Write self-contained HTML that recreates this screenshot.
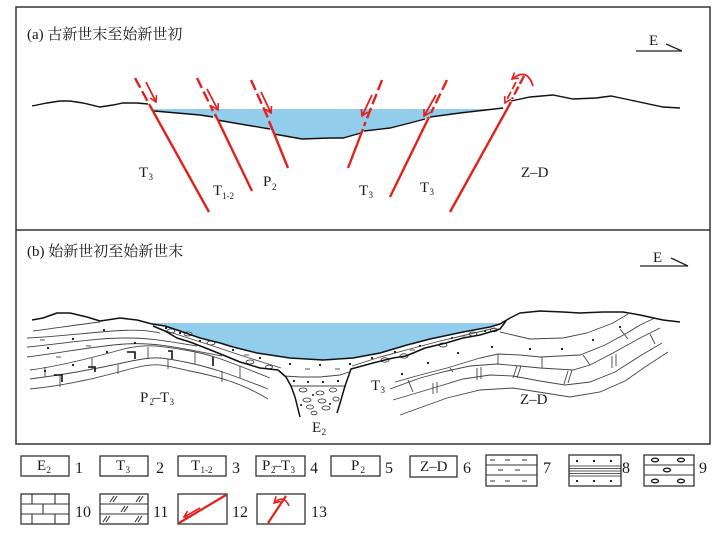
<!DOCTYPE html>
<html>
<head>
<meta charset="utf-8">
<style>
html,body{margin:0;padding:0;background:#fff;}
svg{display:block;}
text{font-family:"Liberation Serif","Noto Serif CJK SC",serif;fill:#1a1a1a;}
</style>
</head>
<body>
<svg width="726" height="533" viewBox="0 0 726 533" xmlns="http://www.w3.org/2000/svg">
<defs>
<marker id="ah" markerUnits="userSpaceOnUse" markerWidth="9" markerHeight="9" refX="7" refY="4.5" orient="auto">
<path d="M1,1 L7,4.5 L1,8" fill="none" stroke="#e3211c" stroke-width="1.6"/>
</marker>
</defs>
<rect x="0" y="0" width="726" height="533" fill="#fff"/>

<!-- Frame -->
<rect x="16" y="7" width="694" height="437" fill="none" stroke="#333" stroke-width="1.5"/>
<line x1="16" y1="230" x2="710" y2="230" stroke="#333" stroke-width="1.5"/>

<!-- ============ PANEL A ============ -->
<text x="27" y="39" font-size="15">(a) 古新世末至始新世初</text>
<text x="649" y="45" font-size="15">E</text>
<line x1="636" y1="51" x2="682" y2="51" stroke="#222" stroke-width="1.3"/>
<line x1="666" y1="44" x2="682" y2="51" stroke="#222" stroke-width="1.3"/>

<!-- water -->
<polygon points="153,109 504,109 503,108 460,113 430,117 425,119 410,123 390,128 364,131 361,133 343,138 330,138 302,139 274,134 270,129 240,124 217,120 213,117 200,115 154,111" fill="#93cdec"/>
<!-- surface lines -->
<polyline points="32,106 47,103 60,101 70,101 83,103 100,107 113,105 123,103 137,103 148,104" fill="none" stroke="#111" stroke-width="1.4"/>
<polyline points="154,111 200,115 213,117" fill="none" stroke="#111" stroke-width="1.4"/>
<polyline points="217,120 240,124 270,129" fill="none" stroke="#111" stroke-width="1.4"/>
<polyline points="274,134 302,139 330,138 343,138 361,133" fill="none" stroke="#111" stroke-width="1.4"/>
<polyline points="364,131 390,128 410,123 425,119" fill="none" stroke="#111" stroke-width="1.4"/>
<polyline points="430,117 460,113 503,108" fill="none" stroke="#111" stroke-width="1.4"/>
<polyline points="511,101 530,97 553,95 573,99 596,98 611,96 630,100 663,107 680,108" fill="none" stroke="#111" stroke-width="1.4"/>

<!-- faults -->
<g stroke="#e3211c" stroke-width="2.4" fill="none" stroke-linecap="butt">
<line x1="135" y1="78" x2="148" y2="102" stroke-dasharray="11,4"/>
<line x1="149" y1="104" x2="209" y2="212"/>
<line x1="197" y1="78" x2="213" y2="111" stroke-dasharray="11,4"/>
<line x1="215" y1="114" x2="252" y2="191"/>
<line x1="251" y1="80" x2="268" y2="118" stroke-dasharray="11,4"/>
<line x1="269" y1="121" x2="288" y2="168"/>
<line x1="382" y1="80" x2="364" y2="126" stroke-dasharray="11,4"/>
<line x1="363" y1="129" x2="348" y2="168"/>
<line x1="447" y1="80" x2="431" y2="113" stroke-dasharray="11,4"/>
<line x1="429" y1="117" x2="390" y2="197"/>
<line x1="524" y1="76" x2="512" y2="99" stroke-dasharray="9,3"/>
<line x1="511" y1="102" x2="450" y2="212"/>
</g>
<g stroke="#e3211c" stroke-width="1.8" fill="none">
<line x1="146" y1="82" x2="156" y2="102" marker-end="url(#ah)"/>
<line x1="207" y1="89" x2="218" y2="110" marker-end="url(#ah)"/>
<line x1="261" y1="92" x2="271" y2="113" marker-end="url(#ah)"/>
<line x1="372" y1="95" x2="362" y2="116" marker-end="url(#ah)"/>
<line x1="436" y1="95" x2="424" y2="116" marker-end="url(#ah)"/>
<line x1="516" y1="82" x2="505" y2="103" marker-end="url(#ah)" stroke-dasharray="8,3"/>
<path d="M533,86 Q527,67 512,79" marker-end="url(#ah)"/>
</g>

<!-- labels a -->
<text x="139" y="177" font-size="15">T</text><text x="148.5" y="180" font-size="9">3</text>
<text x="213" y="195" font-size="15">T</text><text x="222" y="199" font-size="9">1-2</text>
<text x="263" y="186" font-size="15">P</text><text x="272" y="190" font-size="9">2</text>
<text x="359" y="195" font-size="15">T</text><text x="368.5" y="198" font-size="9">3</text>
<text x="420" y="192" font-size="15">T</text><text x="429.5" y="195" font-size="9">3</text>
<text x="521" y="177" font-size="15">Z–D</text>

<!-- ============ PANEL B ============ -->
<text x="27" y="256" font-size="15">(b) 始新世初至始新世末</text>
<text x="653" y="262" font-size="15">E</text>
<line x1="640" y1="266" x2="688" y2="266" stroke="#222" stroke-width="1.3"/>
<line x1="671" y1="258" x2="688" y2="266" stroke="#222" stroke-width="1.3"/>

<!-- water -->
<polygon points="152,323 500,323 490,327 463,332 430,339 407,345 380,353 353,358 323,360 290,358 257,353 233,347 220,343 200,338 180,331 165,326 152,324" fill="#93cdec"/>

<!-- left strata -->
<g stroke="#444" stroke-width="0.9" fill="none">
<path d="M33,331 C50,329 75,325 100,322"/>
<path d="M27,338 C55,337 85,333 113,331 S150,331 160,333"/>
<path d="M27,347 C60,344 95,338 125,338 S170,342 197,346"/>
<path d="M27,357 C60,353 95,346 125,344 S180,348 222,356"/>
<path d="M30,370 C60,366 95,357 120,350 S160,346 185,350 S225,360 270,378"/>
<path d="M30,379 C70,374 100,368 127,362 S160,357 185,362 S230,374 268,389"/>
<path d="M30,389 C70,385 100,377 130,369 S165,366 190,371 S240,382 268,399"/>
<!-- block ticks -->
<line x1="45" y1="367" x2="45" y2="377"/>
<line x1="92" y1="358" x2="92" y2="369"/>
<line x1="148" y1="347" x2="148" y2="358"/>
<line x1="195" y1="352" x2="195" y2="364"/>
<line x1="240" y1="366" x2="240" y2="378"/>
<line x1="60" y1="376" x2="60" y2="387"/>
<line x1="118" y1="365" x2="118" y2="374"/>
<line x1="168" y1="359" x2="168" y2="369"/>
<line x1="222" y1="371" x2="222" y2="382"/>
</g>
<g stroke="#111" stroke-width="1.6" fill="none">
<path d="M54,375 h8 v7"/>
<path d="M88,367 h7 v5"/>
<path d="M127,352 h8 v7"/>
<path d="M168,351 h4 v8"/>
<path d="M213,357 v9"/>
</g>
<g fill="#111">
<circle cx="104" cy="330" r="1.1"/><circle cx="73" cy="339" r="1.1"/><circle cx="48" cy="348" r="1.1"/>
<circle cx="135" cy="343" r="1.1"/><circle cx="107" cy="352" r="1.1"/><circle cx="73" cy="365" r="1.1"/>
<circle cx="45" cy="371" r="1.1"/>
</g>
<g stroke="#444" stroke-width="0.9">
<line x1="86" y1="346" x2="91" y2="346"/><line x1="56" y1="357" x2="61" y2="357"/><line x1="40" y1="340" x2="45" y2="340"/>
</g>

<!-- right strata -->
<g stroke="#444" stroke-width="0.9" fill="none">
<polyline points="500,332 530,339 563,338 587,333 613,323 628,314"/>
<polyline points="395,382 420,375 447,368 480,358 498,354 520,355 540,357 580,355 605,345 627,333 640,325 655,318"/>
<polyline points="390,389 420,378 447,371 470,366 497,364 520,366 540,368 573,370 590,365 613,353 640,338 660,328"/>
<polyline points="393,400 430,389 463,379 490,375 513,376 540,381 565,385 590,382 615,372 640,356 662,343"/>
<polyline points="400,415 447,398 480,390 513,388 545,393 570,397 600,392 625,381 645,367 668,352"/>
<line x1="450" y1="368" x2="453" y2="372"/>
<line x1="498" y1="354" x2="498" y2="364"/>
<line x1="542" y1="357" x2="542" y2="368"/>
<line x1="583" y1="355" x2="590" y2="365"/>
<line x1="620" y1="329" x2="628" y2="339"/>
<line x1="408" y1="380" x2="413" y2="392"/>
<line x1="433" y1="383" x2="433" y2="394"/><line x1="437" y1="382" x2="437" y2="393"/>
<line x1="477" y1="368" x2="477" y2="380"/><line x1="481" y1="367" x2="481" y2="379"/>
<line x1="517" y1="366" x2="513" y2="378"/><line x1="521" y1="366" x2="517" y2="378"/>
<line x1="568" y1="371" x2="564" y2="384"/><line x1="572" y1="370" x2="568" y2="383"/>
<line x1="612" y1="356" x2="612" y2="368"/><line x1="616" y1="354" x2="616" y2="366"/>
<line x1="650" y1="334" x2="655" y2="344"/>
</g>
<g fill="#111">
<circle cx="402" cy="374" r="1.1"/><circle cx="428" cy="363" r="1.1"/><circle cx="458" cy="353" r="1.1"/>
<circle cx="492" cy="347" r="1.1"/><circle cx="530" cy="349" r="1.1"/><circle cx="562" cy="349" r="1.1"/>
<circle cx="593" cy="340" r="1.1"/><circle cx="620" cy="327" r="1.1"/>
</g>

<!-- sediment ovals & dots -->
<g fill="#fff" stroke="#333" stroke-width="0.8">
<ellipse cx="171" cy="331" rx="4" ry="2"/><ellipse cx="188" cy="334" rx="4" ry="2"/><ellipse cx="211" cy="343" rx="4" ry="2"/>
<ellipse cx="250" cy="362" rx="4" ry="2"/><ellipse cx="269" cy="367" rx="3.5" ry="1.8"/>
<ellipse cx="385" cy="360" rx="4" ry="2.2"/><ellipse cx="404" cy="356" rx="4" ry="2.2"/>
<ellipse cx="443" cy="345" rx="4" ry="2"/><ellipse cx="473" cy="334" rx="4" ry="2"/><ellipse cx="494" cy="330" rx="3.5" ry="1.8"/>
<ellipse cx="303" cy="390" rx="4" ry="2"/><ellipse cx="320" cy="393" rx="4" ry="2"/><ellipse cx="333" cy="390" rx="3.5" ry="2"/>
<ellipse cx="307" cy="400" rx="4" ry="2"/><ellipse cx="322" cy="401" rx="4" ry="2"/><ellipse cx="336" cy="399" rx="3" ry="2"/>
<ellipse cx="310" cy="407" rx="3.5" ry="2"/><ellipse cx="326" cy="408" rx="4" ry="2"/><ellipse cx="314" cy="413" rx="3" ry="1.8"/>
</g>
<g fill="#111">
<circle cx="166" cy="328" r="1.1"/><circle cx="180" cy="333" r="1.1"/><circle cx="200" cy="341" r="1.1"/>
<circle cx="233" cy="350" r="1.1"/><circle cx="260" cy="358" r="1.1"/><circle cx="290" cy="364" r="1.1"/>
<circle cx="320" cy="365" r="1.1"/><circle cx="350" cy="364" r="1.1"/><circle cx="372" cy="358" r="1.1"/>
<circle cx="395" cy="352" r="1.1"/><circle cx="420" cy="346" r="1.1"/><circle cx="452" cy="338" r="1.1"/>
<circle cx="485" cy="331" r="1.1"/>
<circle cx="294" cy="381" r="1.1"/><circle cx="308" cy="382" r="1.1"/><circle cx="323" cy="382" r="1.1"/><circle cx="338" cy="381" r="1.1"/>
<circle cx="313" cy="395" r="1"/><circle cx="301" cy="405" r="1"/><circle cx="330" cy="404" r="1"/>
</g>
<g stroke="#444" stroke-width="0.9">
<line x1="244" y1="355" x2="249" y2="355"/><line x1="305" y1="369" x2="310" y2="369"/><line x1="335" y1="369" x2="340" y2="369"/>
<line x1="410" y1="350" x2="415" y2="350"/><line x1="460" y1="336" x2="465" y2="336"/>
</g>
<g stroke="#444" stroke-width="0.9" fill="none">
<polyline points="160,329 185,337 210,345 240,355 265,363 281,368"/>
<polyline points="284,376 300,377 320,377 340,375 349,372"/>
<polyline points="290,386 346,386"/>
<polyline points="352,366 380,357 410,349 440,341 470,334 495,328"/>
</g>

<!-- main black lines b -->
<g stroke="#111" stroke-width="1.5" fill="none" stroke-linejoin="round">
<polyline points="32,320 43,318 57,313 70,313 87,317 100,321 107,320 120,318 137,320 152,324"/>
<polyline points="152,324 165,326 180,331 200,338 220,343 233,347 257,353 290,358 323,360 353,358 380,353 407,345 430,339 463,332 490,327 500,324"/>
<polyline points="500,324 510,318 520,313 540,311 563,312 580,313 603,312 623,312 640,315 663,320 680,322"/>
<polyline points="153,326 165,331 177,338 190,342 203,347 223,355 240,362 260,368 278,370 286,377 291,386 295,397 300,417"/>
<polyline points="337,413 341,400 345,386 351,369 373,363 393,358 406,356 425,348 446,343 463,338 480,335 500,329 506,321"/>
</g>

<!-- labels b -->
<text x="140" y="402" font-size="15">P</text><text x="149.5" y="405" font-size="9">2</text>
<text x="153" y="402" font-size="15">–</text>
<text x="160" y="402" font-size="15">T</text><text x="169.5" y="405" font-size="9">3</text>
<text x="371" y="390" font-size="15">T</text><text x="380.5" y="393" font-size="9">3</text>
<text x="312" y="432" font-size="15">E</text><text x="321.5" y="435" font-size="9">2</text>
<text x="520" y="404" font-size="15">Z–D</text>

<!-- ============ LEGEND ============ -->
<g fill="none" stroke="#333" stroke-width="1.3">
<rect x="21" y="456" width="48" height="20"/>
<rect x="100" y="456" width="48" height="20"/>
<rect x="178" y="456" width="48" height="20"/>
<rect x="256" y="456" width="49" height="20"/>
<rect x="331" y="456" width="49" height="20"/>
<rect x="410" y="456" width="47" height="21"/>
<rect x="486" y="455" width="51" height="31"/>
<rect x="569" y="455" width="52" height="31"/>
<rect x="644" y="455" width="50" height="31"/>
<rect x="21" y="494" width="48" height="30"/>
<rect x="100" y="494" width="48" height="30"/>
<rect x="178" y="494" width="49" height="30"/>
<rect x="257" y="494" width="48" height="30"/>
</g>
<text x="37" y="470" font-size="15">E</text><text x="46.5" y="473" font-size="9">2</text>
<text x="116" y="470" font-size="15">T</text><text x="125.5" y="473" font-size="9">3</text>
<text x="191" y="470" font-size="15">T</text><text x="200.5" y="473" font-size="9">1-2</text>
<text x="262" y="470" font-size="15">P</text><text x="271" y="473" font-size="9">2</text>
<text x="274" y="470" font-size="15">–</text>
<text x="281" y="470" font-size="15">T</text><text x="290.5" y="473" font-size="9">3</text>
<text x="351" y="470" font-size="15">P</text><text x="360.5" y="473" font-size="9">2</text>
<text x="420" y="471" font-size="15">Z–D</text>

<g font-size="16">
<text x="75" y="473">1</text>
<text x="156" y="473">2</text>
<text x="232" y="473">3</text>
<text x="310" y="473">4</text>
<text x="385" y="473">5</text>
<text x="463" y="473">6</text>
<text x="543" y="473">7</text>
<text x="622" y="473">8</text>
<text x="699" y="473">9</text>
<text x="75" y="517">10</text>
<text x="153" y="517">11</text>
<text x="232" y="517">12</text>
<text x="311" y="517">13</text>
</g>

<!-- box 7 -->
<g stroke="#333" stroke-width="1">
<line x1="486" y1="465" x2="537" y2="465"/><line x1="486" y1="475" x2="537" y2="475"/>
<line x1="490" y1="460" x2="495" y2="460"/><line x1="505" y1="460" x2="510" y2="460"/><line x1="522" y1="460" x2="527" y2="460"/>
<line x1="498" y1="470" x2="503" y2="470"/><line x1="515" y1="470" x2="520" y2="470"/>
<line x1="490" y1="481" x2="495" y2="481"/><line x1="505" y1="481" x2="510" y2="481"/><line x1="522" y1="481" x2="527" y2="481"/>
</g>
<!-- box 8 -->
<g stroke="#222" stroke-width="0.8">
<line x1="569" y1="466" x2="621" y2="466"/><line x1="569" y1="468.5" x2="621" y2="468.5"/>
<line x1="569" y1="471" x2="621" y2="471"/><line x1="569" y1="473.5" x2="621" y2="473.5"/>
<line x1="569" y1="476" x2="621" y2="476"/>
</g>
<g fill="#111">
<circle cx="577" cy="461" r="1.1"/><circle cx="594" cy="461" r="1.1"/><circle cx="611" cy="461" r="1.1"/>
<circle cx="577" cy="481" r="1.1"/><circle cx="594" cy="481" r="1.1"/><circle cx="611" cy="481" r="1.1"/>
</g>
<!-- box 9 -->
<g stroke="#333" stroke-width="1">
<line x1="644" y1="465" x2="694" y2="465"/><line x1="644" y1="475" x2="694" y2="475"/>
</g>
<g fill="#fff" stroke="#222" stroke-width="1.4">
<ellipse cx="655" cy="460" rx="3.5" ry="1.8"/><ellipse cx="681" cy="460" rx="3.5" ry="1.8"/>
<ellipse cx="667" cy="470" rx="3.5" ry="1.8"/>
<ellipse cx="655" cy="481" rx="3.5" ry="1.8"/><ellipse cx="681" cy="481" rx="3.5" ry="1.8"/>
</g>
<!-- box 10 -->
<g stroke="#333" stroke-width="1.1">
<line x1="21" y1="504" x2="69" y2="504"/><line x1="21" y1="514" x2="69" y2="514"/>
<line x1="32" y1="494" x2="32" y2="504"/><line x1="55" y1="494" x2="55" y2="504"/>
<line x1="43" y1="504" x2="43" y2="514"/>
<line x1="32" y1="514" x2="32" y2="524"/><line x1="55" y1="514" x2="55" y2="524"/>
</g>
<!-- box 11 -->
<g stroke="#333" stroke-width="1.1">
<line x1="100" y1="504" x2="148" y2="504"/><line x1="100" y1="514" x2="148" y2="514"/>
<line x1="110" y1="502" x2="114" y2="496"/><line x1="113" y1="502" x2="117" y2="496"/>
<line x1="136" y1="502" x2="140" y2="496"/><line x1="139" y1="502" x2="143" y2="496"/>
<line x1="121" y1="512" x2="125" y2="506"/><line x1="124" y1="512" x2="128" y2="506"/>
<line x1="103" y1="522" x2="107" y2="516"/><line x1="106" y1="522" x2="110" y2="516"/>
<line x1="135" y1="522" x2="139" y2="516"/><line x1="138" y1="522" x2="142" y2="516"/>
</g>
<!-- box 12 -->
<g stroke="#e3211c" fill="none">
<line x1="179" y1="523" x2="226" y2="495" stroke-width="2.2"/>
<line x1="200" y1="508" x2="184" y2="517" stroke-width="1.6" marker-end="url(#ah)"/>
</g>
<!-- box 13 -->
<g stroke="#e3211c" fill="none">
<line x1="268" y1="523" x2="286" y2="496" stroke-width="2.2"/>
<path d="M289,506 Q284,494 274,503" stroke-width="1.6" marker-end="url(#ah)"/>
</g>
</svg>
</body>
</html>
